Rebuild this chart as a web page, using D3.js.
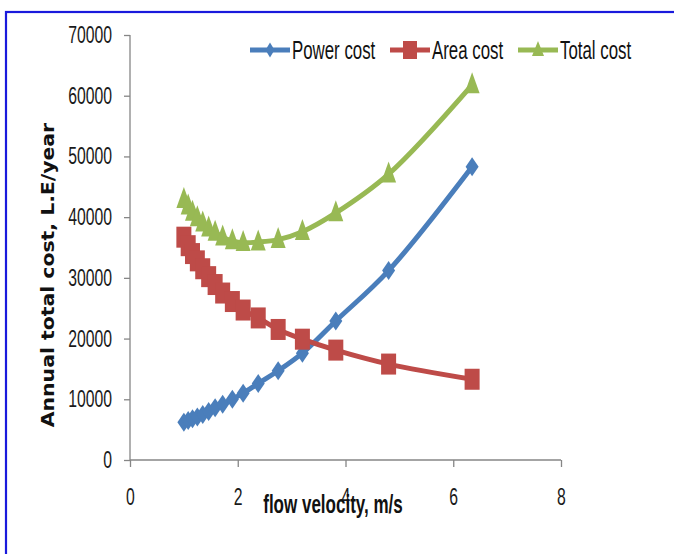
<!DOCTYPE html>
<html>
<head>
<meta charset="utf-8">
<script src="https://cdn.jsdelivr.net/npm/d3@7"></script>
<style>
  html, body { margin: 0; padding: 0; background: #fff; }
  svg { display: block; }
</style>
</head>
<body>
<svg id="chart" width="674" height="554"></svg>
<script>
// ---- data ----
const velocity  = [1.00, 1.08, 1.16, 1.25, 1.35, 1.46, 1.58, 1.72, 1.90, 2.10, 2.38, 2.75, 3.20, 3.82, 4.80, 6.35];
const powerCost = [6200, 6500, 6800, 7100, 7500, 8000, 8600, 9200, 10000, 11000, 12600, 14700, 17600, 22900, 31200, 48300];
const areaCost  = [36700, 35300, 34000, 32800, 31500, 30200, 28900, 27500, 26100, 24700, 23400, 21500, 19900, 18100, 15800, 13300];
const totalCost = [42900, 41800, 40800, 39900, 39000, 38200, 37500, 36700, 36100, 35800, 35900, 36300, 37600, 40700, 47100, 61800];
const seriesNames = ["Power cost", "Area cost", "Total cost"];
const xTicks = [0, 2, 4, 6, 8];
const yTicks = [0, 10000, 20000, 30000, 40000, 50000, 60000, 70000];
const xTitle = "flow velocity, m/s";
const yTitle = "Annual total cost, L.E/year";

const colors = ["#4A7EBB", "#BE4B48", "#98B954"];
const markers = ["diamond", "square", "triangle"];
const seriesValues = [powerCost, areaCost, totalCost];

const svg = d3.select("#chart");
const font = "'Liberation Sans', Arial, sans-serif";
const SX = 0.83, SY = 1.22;

// frame
svg.append("rect").attr("x", 6).attr("y", 12).attr("width", 720).attr("height", 600)
  .attr("fill", "none").attr("stroke", "#1a1adc").attr("stroke-width", 2.2);

const x = d3.scaleLinear().domain([0, 8]).range([130, 561]);
const y = d3.scaleLinear().domain([0, 70000]).range([460, 35]);

const axisColor = "#868686";

// y axis
const gy = svg.append("g").attr("transform", "translate(130,0)")
  .call(d3.axisLeft(y).tickValues(yTicks).tickSize(6).tickFormat(d3.format("d")));
// x axis
const gx = svg.append("g").attr("transform", "translate(0,460)")
  .call(d3.axisBottom(x).tickValues(xTicks).tickSize(7).tickPadding(16).tickFormat(d3.format("d")));

[gy, gx].forEach(g => {
  g.select(".domain").attr("stroke", axisColor).attr("stroke-width", 1.3);
  g.selectAll(".tick line").attr("stroke", axisColor).attr("stroke-width", 1.3);
  g.selectAll(".tick text").attr("fill", "#1a1a1a").style("font-family", font).style("font-size", "19px")
    .attr("transform", `scale(${SX},${SY})`);
});
gy.selectAll(".tick text").attr("x", -18 / SX);
// plain domain lines
gy.select(".domain").attr("d", `M0,${y(70000)}V${y(0)}`);
gx.select(".domain").attr("d", `M${x(0)},0H${x(8)}`);

// lines
const line = d3.line().x((d, i) => x(velocity[i])).y(d => y(d)).curve(d3.curveCatmullRom.alpha(0.5));

function drawMarker(g, type, cx, cy, w, h, color) {
  if (type === "square") {
    g.append("rect").attr("x", cx - w / 2).attr("y", cy - h / 2).attr("width", w).attr("height", h)
      .attr("fill", color);
  } else if (type === "diamond") {
    g.append("path").attr("d", `M${cx},${cy - h / 2}L${cx + w / 2},${cy}L${cx},${cy + h / 2}L${cx - w / 2},${cy}Z`)
      .attr("fill", color);
  } else {
    g.append("path").attr("d", `M${cx},${cy - h * 0.6}L${cx + w / 2},${cy + h * 0.4}L${cx - w / 2},${cy + h * 0.4}Z`)
      .attr("fill", color);
  }
}

const msize = { diamond: [13, 19], square: [15, 21], triangle: [15, 21] };

seriesValues.forEach((vals, si) => {
  const g = svg.append("g");
  g.append("path").datum(vals).attr("d", line).attr("fill", "none")
    .attr("stroke", colors[si]).attr("stroke-width", 5).attr("stroke-linejoin", "round");
  vals.forEach((v, i) => {
    const [w, h] = msize[markers[si]];
    drawMarker(g, markers[si], x(velocity[i]), y(v), w, h, colors[si]);
  });
});

// legend
const legendX = [250, 390, 518];
const legendY = 50;
seriesNames.forEach((name, si) => {
  const g = svg.append("g");
  g.append("line").attr("x1", legendX[si]).attr("x2", legendX[si] + 40).attr("y1", legendY).attr("y2", legendY)
    .attr("stroke", colors[si]).attr("stroke-width", 5);
  const sz = { diamond: [9, 15], square: [14, 18], triangle: [12, 15] }[markers[si]];
  drawMarker(g, markers[si], legendX[si] + 20, legendY, sz[0], sz[1], colors[si]);
  g.append("text").attr("transform", `translate(${legendX[si] + 42},${legendY}) scale(${SX * 0.99},${SY})`)
    .attr("dy", "0.36em").style("font-family", font).style("font-size", "20.5px").attr("fill", "#111")
    .text(name);
});

// axis titles
svg.append("text").attr("transform", `translate(333,513) scale(${SX},${SY})`)
  .attr("text-anchor", "middle").style("font-family", font).style("font-weight", "bold")
  .style("font-size", "20.5px").attr("fill", "#111").text(xTitle);

svg.append("text").attr("transform", "translate(54,275) scale(1,1.2) rotate(-90)")
  .attr("text-anchor", "middle").style("font-family", "'DejaVu Sans', Verdana, sans-serif").style("font-weight", "bold")
  .style("font-size", "17px").attr("fill", "#111").text(yTitle);
</script>
</body>
</html>
